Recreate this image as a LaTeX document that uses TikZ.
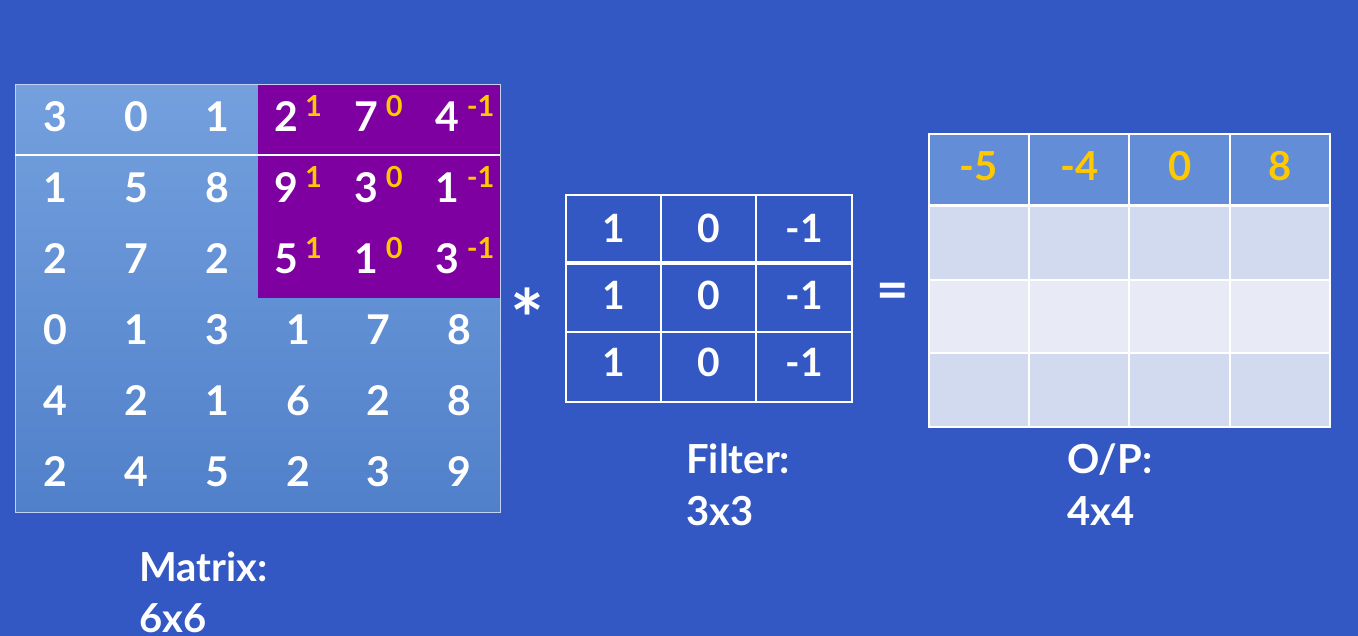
\documentclass[tikz,border=0pt]{standalone}
\usepackage{fontspec}
\setmainfont{Lato}
\usetikzlibrary{positioning}
\definecolor{bgblue}{HTML}{3358C4}
\definecolor{celltop}{HTML}{74A0DE}
\definecolor{cellbot}{HTML}{5080CA}
\definecolor{patch}{HTML}{7E00A0}
\definecolor{weight}{HTML}{FFC800}
\definecolor{headblue}{HTML}{638DD6}
\definecolor{rowdark}{HTML}{D1DAEE}
\definecolor{rowlight}{HTML}{E8EBF6}
\definecolor{rim}{HTML}{C3D2F0}

\begin{document}
\begin{tikzpicture}[x=1pt,y=-1pt,
    num/.style={text=white,font=\fontsize{41}{49}\selectfont\bfseries,inner sep=0pt,anchor=base},
    wt/.style={text=weight,font=\fontsize{29}{34}\selectfont\bfseries,inner sep=0pt,anchor=base west},
    res/.style={text=weight,font=\fontsize{40}{48}\selectfont\bfseries,inner sep=0pt,anchor=base},
    lbl/.style={text=white,font=\fontsize{40}{48}\selectfont\bfseries,inner sep=0pt,anchor=base west},
    op/.style={text=white,font=\fontsize{56}{60}\selectfont\bfseries,inner sep=0pt},
    grid/.style={white,line width=1.2pt}
  ]
  % background
  \fill[bgblue] (0,0) rectangle (1358,636);
  \useasboundingbox (0,0) rectangle (1358,636);

  % input matrix 6x6
  \shade[top color=celltop,bottom color=cellbot] (15,85) rectangle (500,512);
  \fill[patch] (258,85) rectangle (500,298);
  \draw[rim,line width=1pt] (15,85) rectangle (500,512);
  \draw[white,line width=2pt] (15,155.5) -- (500,155.5);
  \foreach \v [count=\k from 0] in {3,0,1,2,7,4, 1,5,8,9,3,1, 2,7,2,5,1,3,
                                     0,1,3,1,7,8, 4,2,1,6,2,8, 2,4,5,2,3,9} {
    \pgfmathtruncatemacro\r{div(\k,6)}
    \pgfmathtruncatemacro\c{mod(\k,6)}
    \pgfmathsetmacro\dx{(\c>2 && \r<3) ? -12 : 0}
    \node[num] (m-\r-\c) at (55.4+80.83*\c+\dx,132+70.8*\r) {\v};
  }
  % filter weights on the patch
  \foreach \w [count=\j from 3] in {1,0,-1} {
    \foreach \r in {0,1,2} {
      \node[wt] (w-\r-\j) at (55.4+80.83*\j+7,117+70.8*\r) {\w};
    }
  }

  % operator signs
  \node[op,font=\fontsize{80}{80}\selectfont\bfseries] (star) at (527,318) {*};
  \node[op] (eq) at (893,296) {=};

  % filter 3x3
  \draw[grid] (566,195) rectangle (852,402);
  \draw[grid] (661,195) -- (661,402) (756,195) -- (756,402) (566,332) -- (852,332);
  \draw[white,line width=3.5pt] (566,263) -- (852,263);
  \foreach \v [count=\k from 0] in {1,0,-1, 1,0,-1, 1,0,-1} {
    \pgfmathtruncatemacro\r{div(\k,3)}
    \pgfmathtruncatemacro\c{mod(\k,3)}
    \node[num,font=\fontsize{39}{47}\selectfont\bfseries] (f-\r-\c) at (613.5+95.3*\c,243+67*\r) {\v};
  }

  % output 4x4
  \fill[headblue] (929,134) rectangle (1330,205);
  \fill[rowdark] (929,205) rectangle (1330,280);
  \fill[rowlight] (929,280) rectangle (1330,353);
  \fill[rowdark] (929,353) rectangle (1330,427);
  \draw[grid] (929,134) rectangle (1330,427);
  \draw[grid] (1029,134) -- (1029,427) (1129,134) -- (1129,427) (1230,134) -- (1230,427)
              (929,280) -- (1330,280) (929,353) -- (1330,353);
  \draw[white,line width=3pt] (929,205.5) -- (1330,205.5);
  \foreach \v [count=\c from 0] in {-5,-4,0,8} {
    \node[res] (o-\c) at (979+100.3*\c,181) {\v};
  }

  % captions
  \node[lbl] (mat-name) at (139,581) {Matrix:};
  \node[lbl] (mat-size) at (139,632) {6x6};
  \node[lbl] (fil-name) at (686,473) {Filter:};
  \node[lbl] (fil-size) at (686,525) {3x3};
  \node[lbl] (out-name) at (1067,473) {O/P:};
  \node[lbl] (out-size) at (1067,525) {4x4};
\end{tikzpicture}
\end{document}
